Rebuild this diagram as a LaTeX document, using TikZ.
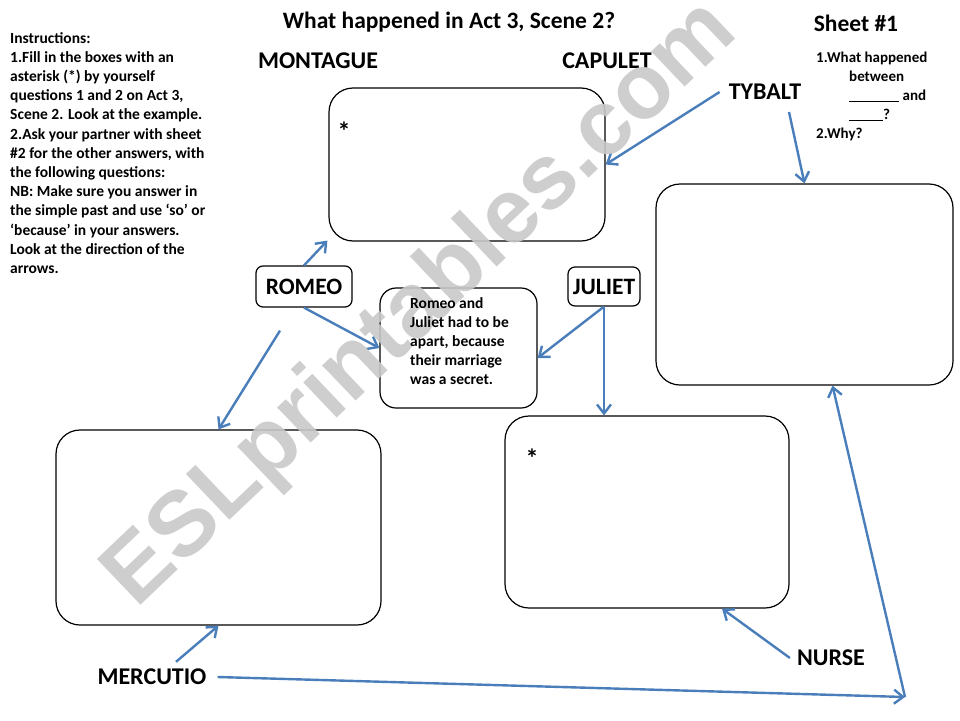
\documentclass[tikz,border=0pt]{standalone}
\usepackage{fontspec}
\setmainfont{Carlito}
\newfontfamily\markfont{Liberation Sans}
\usetikzlibrary{arrows.meta,calc}

\definecolor{arrowblue}{RGB}{74,126,187}
\newcommand{\blankline}[1]{\rule[-1pt]{#1}{0.8pt}}

\begin{document}
\begin{tikzpicture}[x=1pt,y=-1pt,
    answerbox/.style={draw,line width=1.2pt,rounded corners=24pt,inner sep=0pt},
    namebox/.style={draw,line width=1.2pt,rounded corners=7pt,inner sep=0pt,font=\bfseries\fontsize{23.5}{26}\selectfont},
    charname/.style={font=\bfseries\fontsize{24}{26}\selectfont,inner sep=1pt},
    star/.style={font=\bfseries\fontsize{26}{28}\selectfont,inner sep=0pt},
    arr/.style={draw=arrowblue,line width=2.4pt,-{Straight Barb[length=9pt,width=14pt,line width=2.4pt]}}]
      \useasboundingbox (0,0) rectangle (960,720);

      % headings
      \node[font=\bfseries\fontsize{23.5}{26}\selectfont] (title) at (449,22) {What happened in Act 3, Scene 2?};
      \node[font=\bfseries\fontsize{23.5}{26}\selectfont] (sheet) at (856,23) {Sheet \#1};
      \node[charname] (montague) at (318,61) {MONTAGUE};
      \node[charname] (capulet) at (607,61) {CAPULET};

      % boxes
      \node[answerbox,minimum width=276pt,minimum height=153pt] (topbox) at (467,164.5) {};
      \node[answerbox,minimum width=297pt,minimum height=201pt] (rightbox) at (804.5,284.5) {};
      \node[answerbox,minimum width=325pt,minimum height=195pt] (leftbox) at (218.5,527.5) {};
      \node[answerbox,minimum width=284pt,minimum height=192pt] (bottombox) at (647,512) {};
      \node[answerbox,rounded corners=16pt,minimum width=157pt,minimum height=120pt] (rjbox) at (458.5,348) {};

      % characters
      \node[namebox,minimum width=96pt,minimum height=41pt] (romeo) at (304,286.5) {ROMEO};
      \node[namebox,minimum width=72pt,minimum height=39pt] (juliet) at (604,286.5) {JULIET};
      \node[charname] (tybalt) at (765,92) {TYBALT};
      \node[charname] (mercutio) at (152,677) {MERCUTIO};
      \node[charname] (nurse) at (831,658) {NURSE};
      \coordinate (corner) at (905,697);

      % arrows
      \draw[arr] ([xshift=-8pt]tybalt.west) -- (topbox.east);
      \draw[arr] ([shift={(24pt,-11pt)}]tybalt.south) -- (rightbox.north);
      \draw[arr] (romeo.north) -- ([shift={(-1pt,1pt)}]topbox.south west);
      \draw[arr] (romeo.south) -- (rjbox.west);
      \draw[arr] ([shift={(-24pt,-23pt)}]romeo.south) -- (leftbox.north);
      \draw[arr] (juliet.south) -- ([yshift=-10pt]rjbox.east);
      \draw[arr] (juliet.south) -- (juliet.south |- bottombox.north);
      \draw[arr] ([shift={(24pt,6pt)}]mercutio.north) -- (leftbox.south);
      \draw[arr] ([xshift=-6pt]nurse.west) -- ([xshift=75pt]bottombox.south);
      \draw[arr] ([xshift=10pt]mercutio.east) -- (corner);
      \draw[arr] (corner) -- ([xshift=28pt]rightbox.south);

      % watermark
      \node[rotate=43.6,text=black!21,opacity=0.9,
        font=\markfont\bfseries\fontsize{92}{96}\selectfont] (mark) at (422,305) {ESLprintables.com};

      % texts
      \node[anchor=north west,align=left,inner sep=0pt,
        font=\bfseries\fontsize{15.5}{19.2}\selectfont] (instr) at (10,32) {%
        Instructions:\\
        1.Fill in the boxes with an\\
        asterisk (*) by yourself\\
        questions 1 and 2 on Act 3,\\
        Scene 2. Look at the example.\\
        2.Ask your partner with sheet\\
        \#2 for the other answers, with\\
        the following questions:\\
        NB: Make sure you answer in\\
        the simple past and use `so' or\\
        `because' in your answers.\\
        Look at the direction of the\\
        arrows.};
      \node[anchor=north west,align=left,inner sep=0pt,
        font=\bfseries\fontsize{15}{19}\selectfont] (questions) at (816,52) {%
        1.What happened\\
        \hspace*{33pt}between\\
        \hspace*{33pt}\blankline{50pt} and\\
        \hspace*{33pt}\blankline{34pt}?\\
        2.Why?};
      \node[anchor=north west,align=left,inner sep=0pt,
        font=\bfseries\fontsize{15.5}{19.2}\selectfont] (example) at (410,297) {%
        Romeo and\\
        Juliet had to be\\
        apart, because\\
        their marriage\\
        was a secret.};
      \node[star] (star1) at (344,131) {*};
      \node[star] (star2) at (532,458) {*};
\end{tikzpicture}
\end{document}
